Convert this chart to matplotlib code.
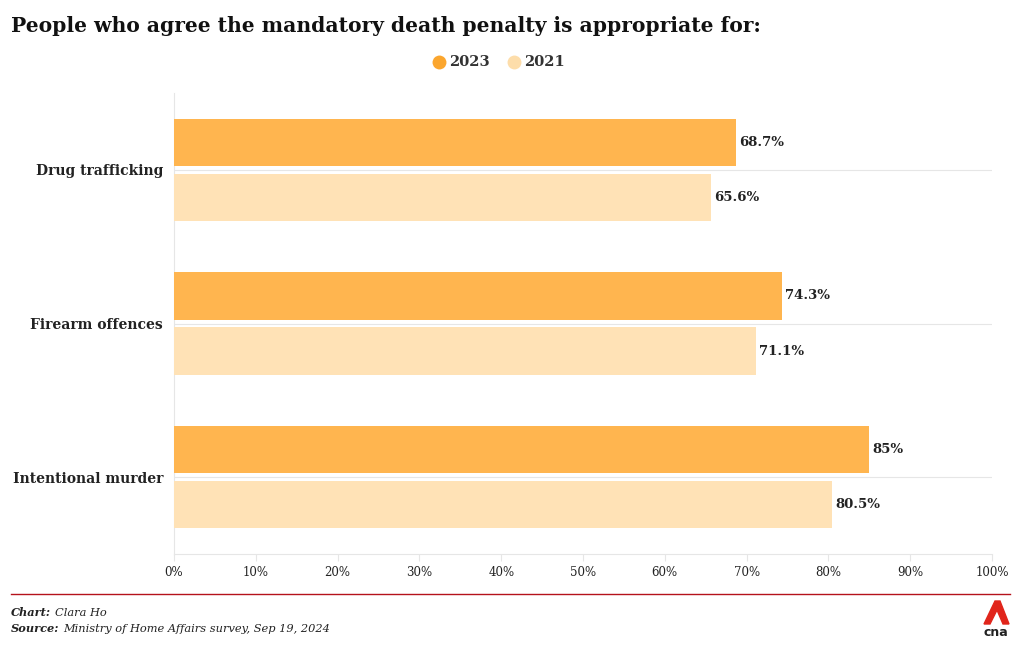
import matplotlib
matplotlib.use("Agg")
import matplotlib.pyplot as plt
from matplotlib.patches import Polygon
from matplotlib.lines import Line2D
import numpy as np

categories = ["Drug trafficking", "Firearm offences", "Intentional murder"]
series_names = ["2023", "2021"]
values_2023 = [68.7, 74.3, 85.0]
values_2021 = [65.6, 71.1, 80.5]
labels_2023 = ["68.7%", "74.3%", "85%"]
labels_2021 = ["65.6%", "71.1%", "80.5%"]
xticks = [0, 10, 20, 30, 40, 50, 60, 70, 80, 90, 100]
xtick_labels = [f"{t}%" for t in xticks]

C2023 = "#FFB54F"
C2021 = "#FFE2B6"
C2023_LEG = "#FBA62E"
C2021_LEG = "#FDDDAA"
TEXT = "#222222"
GRID = "#E6E6E6"
SERIF = "DejaVu Serif"

W, H = 1020, 650
fig = plt.figure(figsize=(W / 100, H / 100), dpi=100)

def fx(px):
    return px / W

def fy(py):
    return 1 - py / H

ax_left, ax_right, ax_top, ax_bottom = 174, 992, 93, 554
ax = fig.add_axes([fx(ax_left), fy(ax_bottom), (ax_right - ax_left) / W, (ax_bottom - ax_top) / H])

y = np.arange(len(categories))
bar_h = 0.306
off = 0.179
ax.barh(y - off, values_2023, height=bar_h, color=C2023, zorder=3)
ax.barh(y + off, values_2021, height=bar_h, color=C2021, zorder=3)

for yi, v, lab in zip(y - off, values_2023, labels_2023):
    ax.text(v + 0.4, yi, lab, va="center", ha="left", fontsize=9.5, fontweight="bold",
            family=SERIF, color=TEXT, zorder=4)
for yi, v, lab in zip(y + off, values_2021, labels_2021):
    ax.text(v + 0.4, yi, lab, va="center", ha="left", fontsize=9.5, fontweight="bold",
            family=SERIF, color=TEXT, zorder=4)

ax.set_xlim(0, 100)
ax.set_ylim(len(categories) - 0.5, -0.5)
for yi in y:
    ax.axhline(yi, color=GRID, lw=0.8, zorder=1)

ax.set_yticks(y)
ax.set_yticklabels(categories, fontsize=10, fontweight="bold", family=SERIF, color=TEXT)
ax.tick_params(axis="y", length=0, pad=8)
ax.set_xticks(xticks)
ax.set_xticklabels(xtick_labels, fontsize=8.5, family=SERIF, color=TEXT)
ax.tick_params(axis="x", length=5, color=GRID, width=0.8, pad=4)

for s in ["top", "right"]:
    ax.spines[s].set_visible(False)
ax.spines["left"].set_color(GRID)
ax.spines["left"].set_linewidth(0.8)
ax.spines["bottom"].set_color(GRID)
ax.spines["bottom"].set_linewidth(0.8)

# Title
fig.text(fx(11), fy(26), "People who agree the mandatory death penalty is appropriate for:",
         ha="left", va="center", fontsize=14.6, fontweight="bold", family=SERIF, color="#111111")

# Legend
for cx, col, name in [(439, C2023_LEG, series_names[0]), (514, C2021_LEG, series_names[1])]:
    fig.add_artist(Line2D([fx(cx)], [fy(62)], marker="o", markersize=10, color=col,
                          markeredgewidth=0, linestyle="none"))
    fig.text(fx(cx + 10), fy(62), name, ha="left", va="center", fontsize=10.5,
             fontweight="bold", family=SERIF, color="#333333")

# Footer line
fig.add_artist(Line2D([fx(11), fx(1010)], [fy(594), fy(594)], color="#B5121B", lw=1.0))

renderer = fig.canvas.get_renderer()
for py, bold, rest in [(613, "Chart:", "Clara Ho"),
                       (629, "Source:", "Ministry of Home Affairs survey, Sep 19, 2024")]:
    t = fig.text(fx(11), fy(py), bold, ha="left", va="center", fontsize=8.2, fontweight="bold",
                 style="italic", family=SERIF, color=TEXT)
    bb = t.get_window_extent(renderer)
    fig.text(fx(bb.x1 + 4), fy(py), rest, ha="left", va="center", fontsize=8.2,
             style="italic", family=SERIF, color=TEXT)

# CNA logo
red = "#E1251B"
pts = [(984, 624), (995, 601), (1000, 601), (1009, 624), (1003, 624), (997, 610), (990, 624)]
fig.patches.append(Polygon([(fx(px), fy(py)) for px, py in pts], closed=True,
                           transform=fig.transFigure, color=red, figure=fig))
fig.text(fx(996), fy(632), "cna", ha="center", va="center", fontsize=9, fontweight="bold",
         family="DejaVu Sans", color="#222222")

fig.savefig("out.png", dpi=100, facecolor="white")
